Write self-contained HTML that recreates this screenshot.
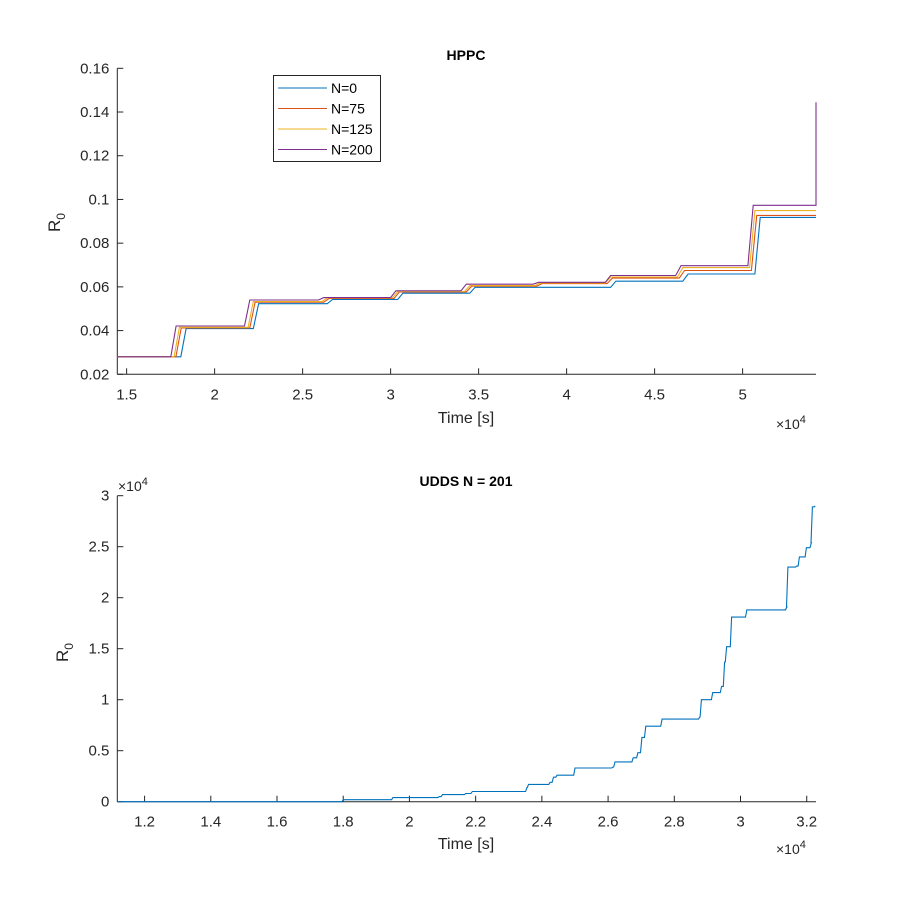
<!DOCTYPE html>
<html><head><meta charset="utf-8"><style>
html,body{margin:0;padding:0;background:#fff;}
svg{display:block;font-family:"Liberation Sans",Arial,sans-serif;}
</style></head><body>
<svg id="fig" width="902" height="901" viewBox="0 0 902 901">
<rect width="902" height="901" fill="#fff"/>
</svg>
<script>
// ---- Top chart (HPPC) data, x in 1e4 s ----
const hppcTicksX = [1.5, 2, 2.5, 3, 3.5, 4, 4.5, 5];
const hppcTicksY = [0.02, 0.04, 0.06, 0.08, 0.1, 0.12, 0.14, 0.16];
const seriesNames = ["N=0", "N=75", "N=125", "N=200"];
const n0Times = [1.808, 2.22, 2.64, 3.04, 3.45, 3.86, 4.25, 4.66, 5.07];
const n0Levels = [0.028, 0.0409, 0.0523, 0.0542, 0.0571, 0.0598, 0.0598, 0.0626, 0.0659, 0.0918];
const n75Times = [1.78, 2.20, 2.62, 3.02, 3.43, 3.83, 4.23, 4.64, 5.05];
const n75Levels = [0.028, 0.0412, 0.0530, 0.0547, 0.0577, 0.0603, 0.0615, 0.0640, 0.0675, 0.0927];
const n125Times = [1.77, 2.19, 2.61, 3.01, 3.42, 3.82, 4.22, 4.63, 5.04];
const n125Levels = [0.028, 0.0415, 0.0533, 0.0550, 0.0579, 0.0606, 0.0618, 0.0645, 0.0688, 0.0949];
const n200Times = [1.751, 2.17, 2.59, 3.0, 3.40, 3.81, 4.22, 4.62, 5.03];
const n200Levels = [0.028, 0.0421, 0.0540, 0.0551, 0.0582, 0.0612, 0.0621, 0.0652, 0.0697, 0.0973];
const n200EndSpike = 0.1445;
// ---- Bottom chart (UDDS) data, x and y in 1e4 ----
const uddsTicksX = [1.2, 1.4, 1.6, 1.8, 2, 2.2, 2.4, 2.6, 2.8, 3, 3.2];
const uddsTicksY = [0, 0.5, 1, 1.5, 2, 2.5, 3];
const uddsX = [1.118, 1.6, 1.8, 1.95, 2.09, 2.10, 2.17, 2.19, 2.355, 2.36, 2.425, 2.435, 2.446, 2.50, 2.615, 2.621, 2.676, 2.69, 2.702, 2.714, 2.763, 2.877, 2.882, 2.916, 2.943, 2.952, 2.958, 2.973, 3.019, 3.140, 3.143, 3.170, 3.178, 3.199, 3.214, 3.217, 3.226];
const uddsY = [0, 0, 0.02, 0.04, 0.05, 0.07, 0.08, 0.10, 0.14, 0.17, 0.19, 0.24, 0.26, 0.33, 0.34, 0.39, 0.43, 0.48, 0.63, 0.74, 0.81, 0.83, 1.0, 1.07, 1.13, 1.37, 1.52, 1.81, 1.88, 1.91, 2.30, 2.31, 2.40, 2.49, 2.54, 2.89, 2.90];

const NS = "http://www.w3.org/2000/svg";
const svg = document.getElementById('fig');
function mk(tag, attrs, parent, text){
  const e = document.createElementNS(NS, tag);
  for (const k in attrs) e.setAttribute(k, attrs[k]);
  if (text !== undefined) e.textContent = text;
  (parent || svg).appendChild(e);
  return e;
}
const TC = "#262626";

const T = {l:117.3, r:816, t:68.3, b:374.3, x0:1.447, x1:5.417, y0:0.02, y1:0.16};
const tx = v => T.l + (v - T.x0) / (T.x1 - T.x0) * (T.r - T.l);
const ty = v => T.b - (v - T.y0) / (T.y1 - T.y0) * (T.b - T.t);
const B = {l:117.3, r:816, t:495.7, b:801.7, x0:1.1176, x1:3.228, y0:0, y1:3};
const bx = v => B.l + (v - B.x0) / (B.x1 - B.x0) * (B.r - B.l);
const by = v => B.b - (v - B.y0) / (B.y1 - B.y0) * (B.b - B.t);

function axes(A, xs, ys, fx, fy, xfmt, yfmt, name){
  const g = mk('g', {});
  
  
  mk('line', {x1:A.l, y1:A.b, x2:A.r, y2:A.b, stroke:TC, 'stroke-width':1}, g);
  mk('line', {x1:A.l, y1:A.t, x2:A.l, y2:A.b, stroke:TC, 'stroke-width':1}, g);
  xs.forEach(v => {
    const x = fx(v);
    mk('line', {x1:x, y1:A.b, x2:x, y2:A.b-6, stroke:TC}, g);
    const t = mk('text', {x:x, y:A.b+25, 'text-anchor':'middle', 'font-size':15, fill:TC}, g, xfmt(v));
    
    
  });
  ys.forEach(v => {
    const y = fy(v);
    mk('line', {x1:A.l, y1:y, x2:A.l+6, y2:y, stroke:TC}, g);
    const t = mk('text', {x:A.l-8, y:y+5, 'text-anchor':'end', 'font-size':15, fill:TC}, g, yfmt(v));
    
    
  });
}
axes(T, hppcTicksX, hppcTicksY, tx, ty, v => String(v), v => v.toFixed(2).replace(/^0\.10$/,'0.1'), 'hppc');
axes(B, uddsTicksX, uddsTicksY, bx, by, v => String(v), v => String(v), 'udds');

const colors = ["#0072BD", "#D95319", "#EDB120", "#7E2F8E"];
const allTimes = [n0Times, n75Times, n125Times, n200Times];
const allLevels = [n0Levels, n75Levels, n125Levels, n200Levels];
const rise = 0.03;
for (let s = 0; s < 4; s++) {
  const times = allTimes[s], lv = allLevels[s];
  let pts = [[T.x0, lv[0]]];
  for (let i = 0; i < times.length; i++) {
    pts.push([times[i], lv[i]]);
    pts.push([times[i] + rise, lv[i+1]]);
  }
  pts.push([T.x1, lv[lv.length-1]]);
  if (s === 3) pts.push([T.x1, n200EndSpike]);
  const p = mk('polyline', {points: pts.map(q => tx(q[0]).toFixed(1)+','+ty(q[1]).toFixed(1)).join(' '), fill:'none', stroke:colors[s], 'stroke-width':1.1});
  
  
}

// Bottom series drawn as steps
let upts = [];
for (let i = 0; i < uddsX.length; i++) {
  if (i > 0) upts.push([uddsX[i] - 0.004, uddsY[i-1]]);
  upts.push([uddsX[i], uddsY[i]]);
}
const up = mk('polyline', {points: upts.map(q => bx(q[0]).toFixed(1)+','+by(q[1]).toFixed(1)).join(' '), fill:'none', stroke:colors[0], 'stroke-width':1.1});



const lg = mk('g', {});


mk('rect', {x:273.5, y:75.5, width:107, height:86, fill:'#fff', stroke:TC, 'stroke-width':1}, lg);
seriesNames.forEach((n, i) => {
  const y = 88 + i * 20.5;
  const e = mk('g', {}, lg);
  
  
  mk('line', {x1:278, y1:y, x2:327, y2:y, stroke:colors[i], 'stroke-width':1.1}, e);
  mk('text', {x:331, y:y+5, 'font-size':14, fill:'#000'}, e, n);
});
</script>
<div style="position:absolute;left:0;top:0;width:902px;height:901px;pointer-events:none;">
<svg width="902" height="901" style="position:absolute;left:0;top:0;font-family:'Liberation Sans',Arial,sans-serif;">
<text x="466" y="60" text-anchor="middle" font-size="14" font-weight="bold" fill="#000">HPPC</text>
<text x="466" y="486" text-anchor="middle" font-size="14" font-weight="bold" fill="#000">UDDS N = 201</text>
<text x="466" y="423" text-anchor="middle" font-size="16" fill="#262626">Time [s]</text>
<text x="466" y="849" text-anchor="middle" font-size="16" fill="#262626">Time [s]</text>
<text transform="translate(60,232) rotate(-90)" font-size="17" fill="#262626">R<tspan font-size="12" dy="5">0</tspan></text>
<text transform="translate(68,662) rotate(-90)" font-size="17" fill="#262626">R<tspan font-size="12" dy="5">0</tspan></text>
<text x="776" y="429" font-size="14" fill="#262626">×10<tspan font-size="11" dy="-6">4</tspan></text>
<text x="776" y="854" font-size="14" fill="#262626">×10<tspan font-size="11" dy="-6">4</tspan></text>
<text x="118" y="491" font-size="14" fill="#262626">×10<tspan font-size="11" dy="-6">4</tspan></text>
</svg>
</div>
</body></html>
